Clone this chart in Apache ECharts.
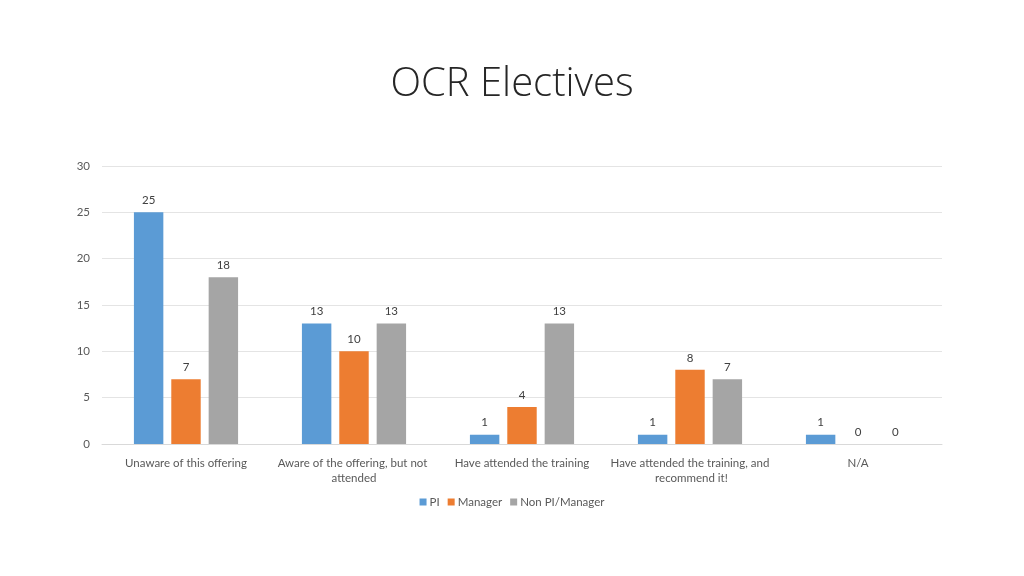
<!DOCTYPE html>
<html>
<head>
<meta charset="utf-8">
<script src="https://cdn.jsdelivr.net/npm/echarts@6/dist/echarts.min.js"></script>
<style>html,body{margin:0;padding:0;background:#fff;}#c{width:1024px;height:576px;}</style>
</head>
<body>
<div id="c"></div>
<script>
const categories = ["Unaware of this offering", "Aware of the offering, but not attended", "Have attended the training", "Have attended the training, and recommend it!", "N/A"];
const seriesNames = ["PI", "Manager", "Non PI/Manager"];
const piValues = [25, 13, 1, 1, 1];
const managerValues = [7, 10, 4, 8, 0];
const nonPiValues = [18, 13, 13, 7, 0];
const colors = ["#5B9BD5", "#ED7D31", "#A5A5A5"];
const font = "Lato, 'Open Sans', sans-serif";

const chart = echarts.init(document.getElementById('c'), null, {renderer: 'canvas'});
const mk = (name, data, color) => ({
  name: name, type: 'bar', data: data,
  itemStyle: {color: color},
  barGap: '27%', barCategoryGap: '38%',
  label: {show: true, position: 'top', distance: 6, color: '#404040', fontSize: 11.5, fontFamily: font}
});
chart.setOption({
  animation: false,
  title: {text: 'OCR Electives', left: 'center', top: 60,
    textStyle: {fontFamily: "'Open Sans', sans-serif", fontWeight: 300, fontSize: 40, color: '#262626'}},
  grid: {left: 102, right: 82, top: 166, bottom: 132},
  legend: {bottom: 63, left: 'center', itemWidth: 7, itemHeight: 7, itemGap: 8,
    icon: 'rect', textStyle: {fontFamily: font, fontSize: 11.5, color: '#595959', padding: [0,0,0,-2]}},
  xAxis: {type: 'category', data: categories,
    axisLine: {lineStyle: {color: '#D9D9D9'}}, axisTick: {show: false},
    axisLabel: {color: '#595959', fontSize: 11.5, fontFamily: font, interval: 0, margin: 12,
      width: 162, overflow: 'break', lineHeight: 15}},
  yAxis: {type: 'value', min: 0, max: 30, interval: 5,
    axisLine: {show: false}, axisTick: {show: false},
    splitLine: {lineStyle: {color: '#E4E4E4'}},
    axisLabel: {color: '#595959', fontSize: 11.5, fontFamily: font, margin: 12}},
  series: [mk(seriesNames[0], piValues, colors[0]), mk(seriesNames[1], managerValues, colors[1]), mk(seriesNames[2], nonPiValues, colors[2])]
});
</script>
</body>
</html>
